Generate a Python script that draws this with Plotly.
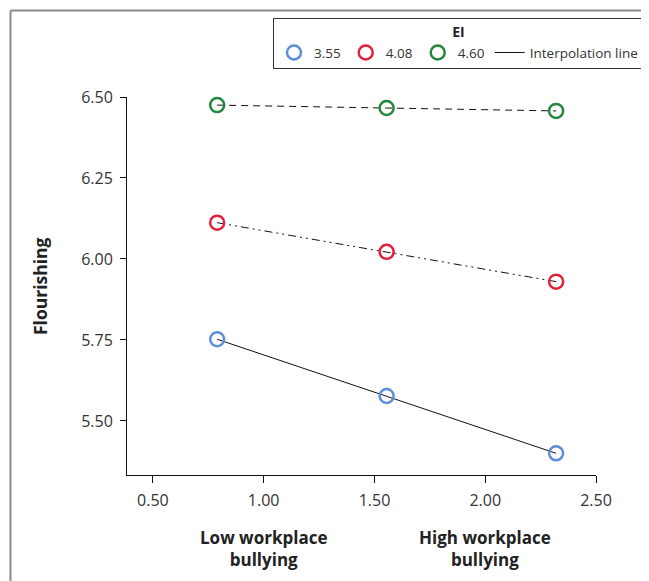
import plotly.graph_objects as go

# Data
x_levels = [0.79, 1.555, 2.32]
ei_labels = ["3.55", "4.08", "4.60"]
flourish_355 = [5.752, 5.577, 5.400]
flourish_408 = [6.112, 6.022, 5.930]
flourish_460 = [6.475, 6.466, 6.457]
x_ticks = [0.5, 1.0, 1.5, 2.0, 2.5]
x_tick_text = ["0.50", "1.00", "1.50", "2.00", "2.50"]
y_ticks = [5.5, 5.75, 6.0, 6.25, 6.5]
y_tick_text = ["5.50", "5.75", "6.00", "6.25", "6.50"]
colors = ["#5B8ED6", "#E3213A", "#24873B"]
dashes = ["solid", "8px,4px,2px,4px,2px,4px", "7px,5px"]
series = [flourish_355, flourish_408, flourish_460]

FONT = "Open Sans"
fig = go.Figure()

for vals, col, dash in zip(series, colors, dashes):
    fig.add_trace(go.Scatter(
        x=x_levels, y=vals, mode="lines", showlegend=False,
        line=dict(color="#111", width=1, dash=dash), hoverinfo="skip"))
for vals, col, lab in zip(series, colors, ei_labels):
    fig.add_trace(go.Scatter(
        x=x_levels, y=vals, mode="markers", name=lab, showlegend=True,
        marker=dict(symbol="circle-open", size=14, color=col,
                    line=dict(color=col, width=2.5)),
        cliponaxis=False))
fig.add_trace(go.Scatter(x=[None], y=[None], mode="lines", name="Interpolation line",
                         line=dict(color="#111", width=1)))

# page body has an 8px margin: lay out in reference pixel coords minus 8
O = 8
FW, FH = 649 - O, 581 - O
L, T, W, H = 127 - O, 97 - O, 469, 378
def px(xp):
    return (xp - O - L) / W
def py(yp):
    return (T + H - (yp - O)) / H

shapes = [
    dict(type="line", xref="paper", yref="paper", x0=px(10.5), x1=px(660), y0=py(10.5), y1=py(10.5),
         line=dict(color="#8a8a8a", width=2)),
    dict(type="line", xref="paper", yref="paper", x0=px(10.5), x1=px(10.5), y0=py(10.5), y1=py(600),
         line=dict(color="#8a8a8a", width=2)),
]

annotations = [
    dict(text="<b>Low workplace<br>bullying</b>", x=1.0, xref="x", y=py(548), yref="paper",
         xanchor="center", yanchor="middle",
         showarrow=False, font=dict(family=FONT, size=17, color="#222"), align="center"),
    dict(text="<b>High workplace<br>bullying</b>", x=2.0, xref="x", y=py(548), yref="paper",
         xanchor="center", yanchor="middle",
         showarrow=False, font=dict(family=FONT, size=17, color="#222"), align="center"),
    dict(text="<b>Flourishing</b>", x=px(40), xref="paper", y=py(286), yref="paper",
         xanchor="center", yanchor="middle",
         textangle=-90, showarrow=False, font=dict(family=FONT, size=17.5, color="#222")),
]

fig.update_layout(
    width=FW, height=FH,
    margin=dict(l=L, r=FW - L - W, t=T, b=FH - T - H, autoexpand=False),
    paper_bgcolor="white", plot_bgcolor="white",
    font=dict(family=FONT, size=14, color="#333"),
    shapes=shapes, annotations=annotations,
    legend=dict(orientation="h", x=px(273), xanchor="left", y=py(18), yanchor="top",
                bordercolor="#333", borderwidth=1, bgcolor="white",
                itemwidth=30, tracegroupgap=0,
                title=dict(text="<b>EI</b>", side="top center", font=dict(size=14, color="#222")),
                font=dict(family=FONT, size=13.5, color="#333")),
    xaxis=dict(range=[0.383, 2.5], tickvals=x_ticks, ticktext=x_tick_text,
               showgrid=False, zeroline=False, showline=True, linecolor="#111", linewidth=1,
               ticks="outside", ticklen=7, tickcolor="#111", automargin=False,
               ticklabelstandoff=4,
               tickfont=dict(family=FONT, size=16, color="#333")),
    yaxis=dict(range=[5.333, 6.5], tickvals=y_ticks, ticktext=y_tick_text,
               showgrid=False, zeroline=False, showline=True, linecolor="#111", linewidth=1,
               ticks="outside", ticklen=6, tickcolor="#111", automargin=False,
               ticklabelstandoff=4,
               tickfont=dict(family=FONT, size=16, color="#333")),
)

fig.write_html("out.html")
